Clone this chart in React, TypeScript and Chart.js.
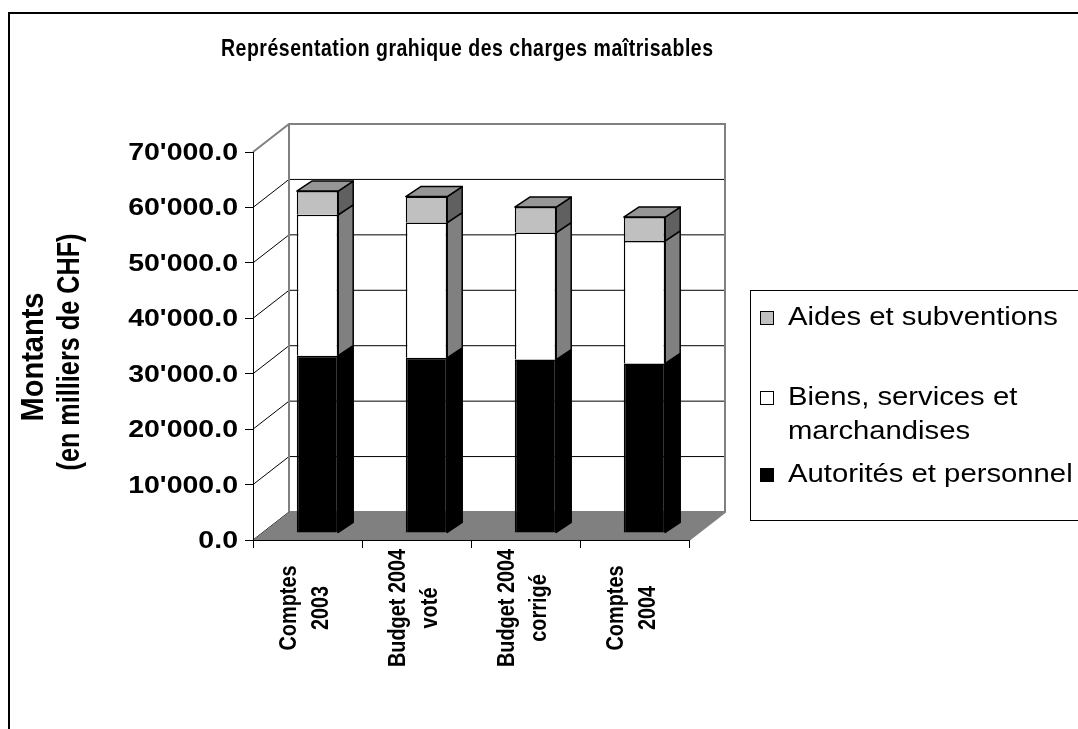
import React, { useEffect, useRef } from 'react';
import { Chart, registerables } from 'chart.js';

Chart.register(...registerables);

// ---------- data ----------
const categories: string[][] = [
  ['Comptes', '2003'],
  ['Budget 2004', 'voté'],
  ['Budget 2004', 'corrigé'],
  ['Comptes', '2004'],
];
const autorites = [32000, 31600, 31300, 30600];
const biens = [25400, 24400, 22900, 22100];
const aides = [4300, 4700, 4600, 4300];
const seriesLabels = ['Autorités et personnel', 'Biens, services et marchandises', 'Aides et subventions'];
const yMin = 0;
const yMax = 70000;
const yStep = 10000;
const chartTitle = 'Représentation grahique des charges maîtrisables';
const yTitleLines = ['Montants', '(en milliers de CHF)'];

// ---------- styles ----------
const FONT = '"Liberation Sans", Arial, sans-serif';
const frontColors = ['#000000', '#ffffff', '#c0c0c0'];
const sideColors = ['#000000', '#808080', '#606060'];
const topColor = '#969696';
const DX = 36, DY = -28; // wall depth
const BX = 10, BY = -7; // bar front-plane offset
const SX = 15, SY = -10; // bar depth

function fmt(v: number): string {
  return Math.round(v).toString().replace(/\B(?=(\d{3})+(?!\d))/g, "'") + '.0';
}

// along: stretch along the text direction; across: stretch of glyph height.
// if target > 0, along is computed so that the text spans target px.
function drawText(ctx: CanvasRenderingContext2D, s: string, x: number, y: number, size: number, bold: boolean,
  along: number, across: number, align: CanvasTextAlign, rotate = false, target = 0) {
  ctx.save();
  const font = `${bold ? 'bold ' : ''}${size}px ${FONT}`;
  ctx.font = font;
  let al = along;
  if (target > 0) al = target / ctx.measureText(s).width;
  ctx.translate(x, y);
  if (rotate) ctx.rotate(-Math.PI / 2);
  ctx.scale(al, across);
  ctx.font = font;
  ctx.textAlign = align;
  ctx.textBaseline = 'alphabetic';
  ctx.fillStyle = '#000';
  ctx.fillText(s, 0, 0);
  ctx.restore();
}

// horizontal text spread with letter spacing to a target width
function drawSpaced(ctx: CanvasRenderingContext2D, s: string, cx: number, y: number, size: number, across: number, target: number) {
  ctx.save();
  ctx.font = `bold ${size}px ${FONT}`;
  const nat = ctx.measureText(s).width;
  const sp = (target - nat) / Math.max(1, s.length - 1);
  (ctx as any).letterSpacing = `${sp}px`;
  ctx.translate(cx - target / 2, y);
  ctx.scale(1, across);
  ctx.textAlign = 'left';
  ctx.textBaseline = 'alphabetic';
  ctx.fillStyle = '#000';
  ctx.fillText(s, 0, 0);
  ctx.restore();
}

const threeD = {
  id: 'threeD',
  beforeDraw(chart: any) {
    const { ctx, chartArea: a, scales } = chart;
    const y = scales.y;
    const x0 = a.left, x1 = a.right, yb = a.bottom, yt = a.top;
    ctx.save();
    ctx.fillStyle = '#fff';
    ctx.fillRect(0, 0, chart.width, chart.height);
    // outer frame
    ctx.strokeStyle = '#000';
    ctx.lineWidth = 2;
    ctx.strokeRect(9, 13, 1200, 900);
    // back wall
    ctx.fillStyle = '#fff';
    ctx.fillRect(x0 + DX, yt + DY, x1 - x0, yb - yt);
    // grid lines on left and back walls
    ctx.strokeStyle = '#000';
    ctx.lineWidth = 1;
    y.ticks.forEach((t: any) => {
      if (t.value >= y.max) return;
      const py = y.getPixelForValue(t.value);
      ctx.beginPath();
      ctx.moveTo(x0, py);
      ctx.lineTo(x0 + DX, py + DY);
      ctx.lineTo(x1 + DX, py + DY);
      ctx.stroke();
    });
    // floor
    ctx.fillStyle = '#808080';
    ctx.beginPath();
    ctx.moveTo(x0, yb);
    ctx.lineTo(x1, yb);
    ctx.lineTo(x1 + DX, yb + DY);
    ctx.lineTo(x0 + DX, yb + DY);
    ctx.closePath();
    ctx.fill();
    // wall borders
    ctx.strokeStyle = '#808080';
    ctx.lineWidth = 2;
    ctx.beginPath();
    ctx.moveTo(x0, yt);
    ctx.lineTo(x0 + DX, yt + DY);
    ctx.lineTo(x1 + DX, yt + DY);
    ctx.lineTo(x1 + DX, yb + DY);
    ctx.lineTo(x1, yb);
    ctx.stroke();
    ctx.beginPath();
    ctx.moveTo(x0 + DX, yt + DY);
    ctx.lineTo(x0 + DX, yb + DY);
    ctx.stroke();
    ctx.restore();
  },
  beforeDatasetsDraw(chart: any) {
    chart.ctx.save();
    chart.ctx.translate(BX, BY);
  },
  afterDatasetsDraw(chart: any) {
    const { ctx } = chart;
    const n = chart.data.datasets.length;
    ctx.strokeStyle = '#000';
    ctx.lineWidth = 1.5;
    ctx.lineJoin = 'round';
    chart.data.datasets.forEach((ds: any, di: number) => {
      const meta = chart.getDatasetMeta(di);
      meta.data.forEach((el: any) => {
        const { x, y, base, width } = el.getProps(['x', 'y', 'base', 'width'], true);
        const l = x - width / 2, r = x + width / 2;
        const top = Math.min(y, base), bot = Math.max(y, base);
        ctx.fillStyle = sideColors[di];
        ctx.beginPath();
        ctx.moveTo(r, top);
        ctx.lineTo(r + SX, top + SY);
        ctx.lineTo(r + SX, bot + SY);
        ctx.lineTo(r, bot);
        ctx.closePath();
        ctx.fill();
        ctx.stroke();
        if (di === n - 1) {
          ctx.fillStyle = topColor;
          ctx.beginPath();
          ctx.moveTo(l, top);
          ctx.lineTo(l + SX, top + SY);
          ctx.lineTo(r + SX, top + SY);
          ctx.lineTo(r, top);
          ctx.closePath();
          ctx.fill();
          ctx.stroke();
        }
      });
    });
    ctx.restore();
  },
  afterDraw(chart: any) {
    const { ctx, chartArea: a, scales } = chart;
    const x = scales.x, y = scales.y;
    // title
    drawSpaced(ctx, chartTitle, 467, 56, 19.5, 1.2, 492);
    // y tick labels
    y.ticks.forEach((t: any) => {
      drawText(ctx, fmt(t.value), a.left - 15, y.getPixelForValue(t.value) + 8, 23, true, 1.24, 1, 'right');
    });
    // y title
    drawText(ctx, yTitleLines[0], 43, 357, 27, true, 1, 1.18, 'center', true, 129);
    drawText(ctx, yTitleLines[1], 79, 352, 27, true, 1, 1.18, 'center', true, 237);
    // x labels
    chart.data.labels.forEach((lab: any, i: number) => {
      const lines: string[] = Array.isArray(lab) ? lab : [lab];
      const cx = x.getPixelForValue(i);
      lines.forEach((s, k) => {
        const bx = cx + 4 + (k - (lines.length - 1) / 2) * 32;
        drawText(ctx, s, bx, 608, 20.5, true, 0.97, 1.2, 'center', true);
      });
    });
    // legend
    ctx.save();
    ctx.strokeStyle = '#000';
    ctx.lineWidth = 1;
    ctx.strokeRect(750.5, 290.5, 400, 230);
    const boxY = [311, 391, 468];
    const items = chart.data.datasets.slice().reverse();
    const lsize = 26;
    ctx.font = `${lsize}px ${FONT}`;
    const lsx = 270 / ctx.measureText(items[0].label).width;
    items.forEach((ds: any, j: number) => {
      ctx.fillStyle = ds.backgroundColor;
      ctx.fillRect(760, boxY[j], 14, 14);
      ctx.strokeStyle = '#000';
      ctx.lineWidth = 1;
      ctx.strokeRect(760.5, boxY[j] + 0.5, 13, 13);
      ctx.font = `${lsize}px ${FONT}`;
      const words = String(ds.label).split(' ');
      const lines: string[] = [];
      let cur = '';
      words.forEach((w) => {
        const test = cur ? cur + ' ' + w : w;
        if (ctx.measureText(test).width * lsx > 292 && cur) {
          lines.push(cur);
          cur = w;
        } else cur = test;
      });
      if (cur) lines.push(cur);
      lines.forEach((s, k) => drawText(ctx, s, 788, boxY[j] + 14 + k * 34, lsize, false, lsx, 1, 'left'));
    });
    ctx.restore();
  },
};

export default function App() {
  const ref = useRef<HTMLCanvasElement>(null);
  useEffect(() => {
    const chart = new Chart(ref.current as HTMLCanvasElement, {
      type: 'bar',
      data: {
        labels: categories as any,
        datasets: [
          { label: seriesLabels[0], data: autorites, backgroundColor: frontColors[0] },
          { label: seriesLabels[1], data: biens, backgroundColor: frontColors[1] },
          { label: seriesLabels[2], data: aides, backgroundColor: frontColors[2] },
        ].map((d) => ({
          ...d,
          borderColor: '#000',
          borderWidth: 1.5,
          barPercentage: 0.38,
          categoryPercentage: 1,
          clip: false as any,
        })),
      },
      options: {
        responsive: false,
        animation: false,
        devicePixelRatio: 1,
        layout: { padding: { left: 243, right: 389, top: 152, bottom: 179 } },
        plugins: { legend: { display: false }, tooltip: { enabled: false }, title: { display: false } },
        scales: {
          x: {
            stacked: true,
            offset: true,
            ticks: { display: false },
            grid: { display: true, drawOnChartArea: false, drawTicks: true, tickLength: 8, color: '#000', offset: true },
            border: { display: true, color: '#000', width: 1 },
            afterFit: (s: any) => { s.height = 10; },
          },
          y: {
            stacked: true,
            min: yMin,
            max: yMax,
            ticks: { display: false, stepSize: yStep },
            grid: { display: true, drawOnChartArea: false, drawTicks: true, tickLength: 8, color: '#000' },
            border: { display: true, color: '#000', width: 1 },
            afterFit: (s: any) => { s.width = 10; },
          },
        },
      },
      plugins: [threeD],
    });
    return () => chart.destroy();
  }, []);
  return (
    <div style={{ position: 'fixed', left: 0, top: 0, width: 1078, height: 729, background: '#fff' }}>
      <canvas ref={ref} width={1078} height={729} style={{ display: 'block' }} />
    </div>
  );
}
